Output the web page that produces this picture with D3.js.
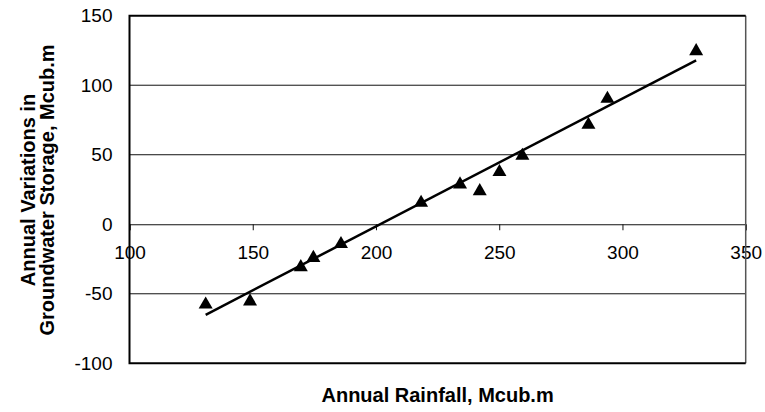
<!DOCTYPE html>
<html>
<head>
<meta charset="utf-8">
<script src="https://cdn.jsdelivr.net/npm/d3@7"></script>
<style>
  body { margin: 0; background: #fff; }
  text { font-family: "Liberation Sans", Arial, sans-serif; fill: #000; }
</style>
</head>
<body>
<svg width="765" height="412"></svg>
<script>
// rainfall (x) vs change in groundwater storage (y)
var rainfall = [130.9, 148.9, 169.5, 174.6, 185.8, 218.3, 234.1, 242.1, 250.1, 259.4, 286.2, 293.9, 329.9]
var storage = [-56.3, -54.0, -29.4, -22.7, -12.8, 16.9, 30.1, 25.3, 39.0, 50.7, 73.0, 91.7, 126.0]
var xTicks = [100, 150, 200, 250, 300, 350]
var yTicks = [-100, -50, 0, 50, 100, 150]

var svg = d3.select("svg"),
    pLeft = 129.5, pRight = 745.7, pTop = 15.7, pBottom = 363.3

var x = d3.scaleLinear().domain([100, 350]).range([pLeft, pRight])
var y = d3.scaleLinear().domain([-100, 150]).range([pBottom, pTop])
var plain = d => String(d) // hyphen minus like the original

// horizontal gridlines
svg.append("g")
    .selectAll("line")
    .data(yTicks.filter(d => d > -100 && d < 150 && d != 0))
    .enter().append("line")
    .attr("x1", pLeft).attr("x2", pRight)
    .attr("y1", d => y(d)).attr("y2", d => y(d))
    .style("stroke", "#111")
    .style("stroke-width", 1)

// x axis sits on y = 0, ticks point down
var xAxis = svg.append("g")
    .attr("transform", "translate(0," + y(0) + ")")
    .call(d3.axisBottom(x).tickValues(xTicks).tickSize(6).tickPadding(15).tickFormat(plain))
xAxis.select(".domain").attr("stroke", "#111").attr("stroke-width", 1)
xAxis.selectAll(".tick line").attr("stroke", "#111")
xAxis.selectAll("text").style("font-size", "19px").attr("fill", "#000")

// y labels
var yAxis = svg.append("g")
    .attr("transform", "translate(" + pLeft + ",0)")
    .call(d3.axisLeft(y).tickValues(yTicks).tickSize(0).tickPadding(17).tickFormat(plain))
yAxis.select(".domain").remove()
yAxis.selectAll("text").style("font-size", "19px").attr("fill", "#000")

// frame
svg.append("line").attr("x1", pRight).attr("x2", pRight).attr("y1", pTop).attr("y2", pBottom)
    .style("stroke", "#555").style("stroke-width", 1.5)
svg.append("path")
    .attr("d", "M" + pRight + "," + pTop + "H" + pLeft + "V" + pBottom + "H" + pRight)
    .style("fill", "none").style("stroke", "#000").style("stroke-width", 2)

// linear trendline (least squares)
var mx = d3.mean(rainfall), my = d3.mean(storage)
var sxy = d3.sum(rainfall, (d, i) => (d - mx) * (storage[i] - my))
var sxx = d3.sum(rainfall, d => (d - mx) * (d - mx))
var slope = sxy / sxx, icpt = my - slope * mx
var ext = d3.extent(rainfall)
svg.append("line")
    .attr("x1", x(ext[0])).attr("y1", y(icpt + slope * ext[0]))
    .attr("x2", x(ext[1])).attr("y2", y(icpt + slope * ext[1]))
    .style("stroke", "#000").style("stroke-width", 2.5)

// triangle markers
var tri = d3.symbol().type(d3.symbolTriangle).size(85)
var r = Math.sqrt(85 / (Math.sqrt(3) * 3))
svg.append("g")
    .selectAll("path")
    .data(rainfall)
    .enter().append("path")
    .attr("d", tri)
    .attr("transform", (d, i) => "translate(" + x(d) + "," + (y(storage[i]) + r / 2) + ")")
    .style("fill", "#000")

// axis titles
svg.append("text")
    .attr("x", (pLeft + pRight) / 2).attr("y", 402)
    .attr("text-anchor", "middle")
    .style("font-size", "20px").style("font-weight", "bold")
    .text("Annual Rainfall, Mcub.m")

var yt = svg.append("text")
    .attr("transform", "translate(0," + 190 + ") rotate(-90)")
    .attr("text-anchor", "middle")
    .style("font-size", "20px").style("font-weight", "bold")
yt.append("tspan").attr("x", 0).attr("y", 35).text("Annual Variations in")
yt.append("tspan").attr("x", 0).attr("y", 54).text("Groundwater Storage, Mcub.m")
</script>
</body>
</html>
